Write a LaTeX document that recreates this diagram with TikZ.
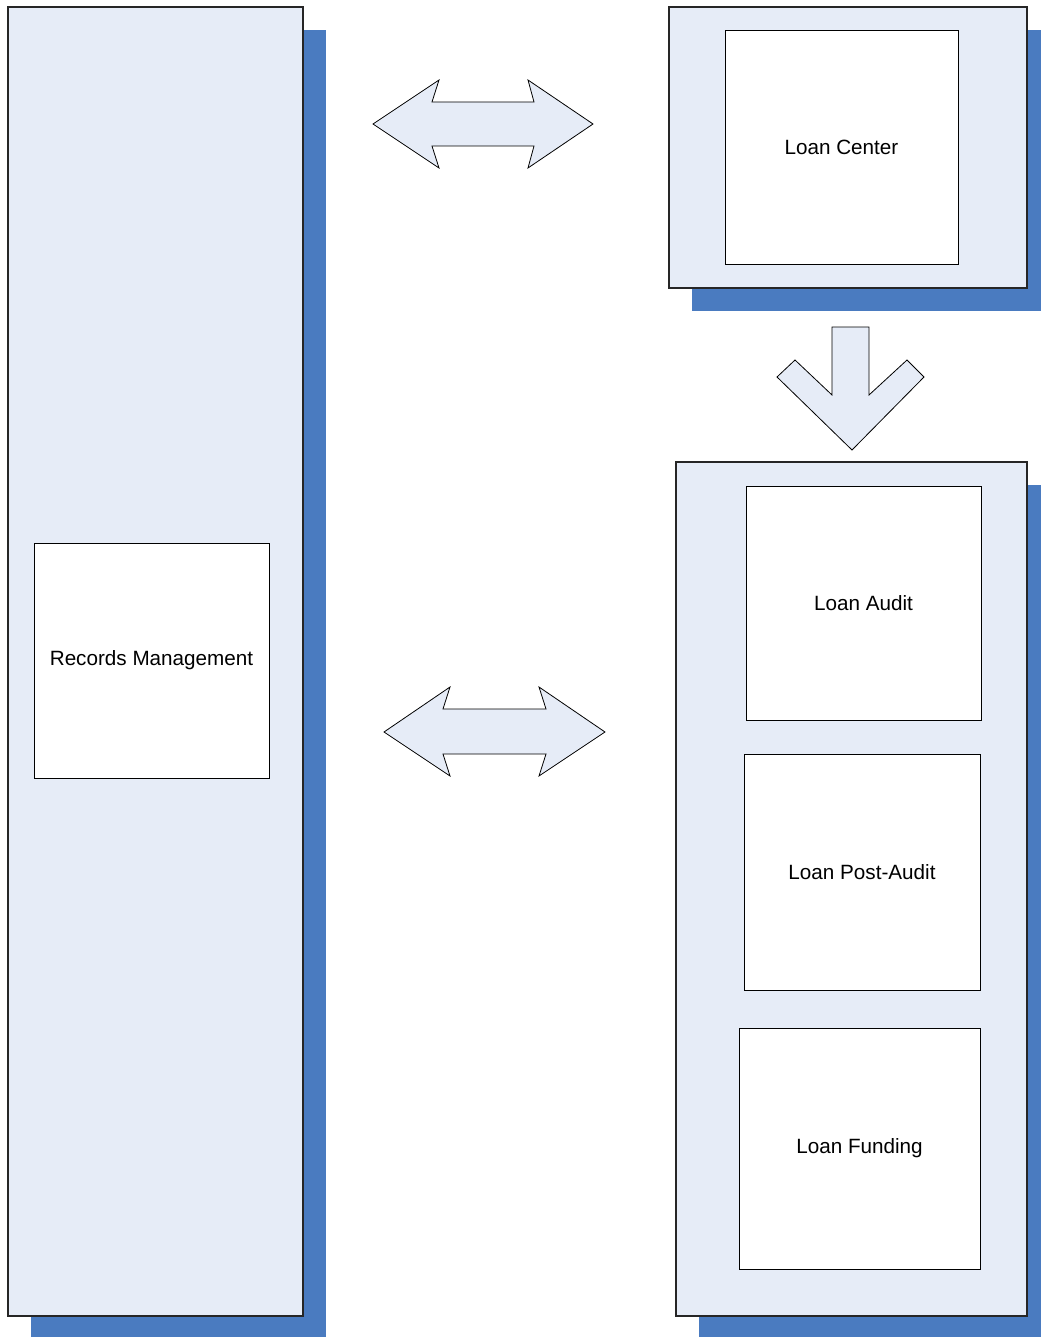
\documentclass[tikz,border=0pt]{standalone}
\usepackage{fontspec}
\setmainfont{Liberation Sans}
\usepackage{xcolor}
\usetikzlibrary{shadows}
\definecolor{panelblue}{RGB}{230,236,247}
\definecolor{shadowblue}{RGB}{74,123,192}

\begin{document}
\begin{tikzpicture}[
        x=0.75pt, y=-0.75pt,
        panel/.style={rectangle, draw=black!85, line width=0.9pt, fill=panelblue, inner sep=0pt,
            general shadow={fill=shadowblue, shadow xshift=17.25pt, shadow yshift=-17.25pt}},
        unit/.style={rectangle, draw, line width=0.6pt, fill=white, inner sep=0pt,
            font=\fontsize{15.5}{18}\selectfont},
        blockarrow/.style={draw, line width=0.6pt, fill=panelblue, line join=miter}
    ]
    \useasboundingbox (0,0) rectangle (1040,1337);

    % panels
    \node[panel, minimum width=221.25pt, minimum height=981.75pt] (recpanel) at (155.5,661.5) {};
    \node[panel, minimum width=268.5pt, minimum height=210.75pt] (centerpanel) at (848,147.5) {};
    \node[panel, minimum width=263.25pt, minimum height=640.5pt] (auditpanel) at (851.5,889) {};

    % units
    \node[unit, minimum width=176.25pt, minimum height=176.25pt] (records) at (151.5,660.5) {Records Management};
    \node[unit, minimum width=174.75pt, minimum height=175.5pt] (center) at (841.5,147) {Loan Center};
    \node[unit, minimum width=176.25pt, minimum height=175.5pt] (audit) at (863.5,603) {Loan Audit};
    \node[unit, minimum width=177pt, minimum height=177pt] (postaudit) at (862,872) {Loan Post-Audit};
    \node[unit, minimum width=180.75pt, minimum height=180.75pt] (funding) at (859.5,1148.5) {Loan Funding};

    % block arrows
    \draw[blockarrow] (373,124) -- (439,80) -- (432,102) -- (534,102) -- (528,80) -- (593,124)
        -- (528,168) -- (534,146) -- (432,146) -- (439,168) -- cycle;
    \draw[blockarrow] (384,732) -- (450,687) -- (443,709) -- (546,709) -- (539,687) -- (605,732)
        -- (539,776) -- (546,754) -- (443,754) -- (450,776) -- cycle;
    \draw[blockarrow] (832,327) -- (869,327) -- (869,395) -- (907,360) -- (924,377) -- (852,450)
        -- (777,377) -- (795,360) -- (832,395) -- cycle;
\end{tikzpicture}
\end{document}
